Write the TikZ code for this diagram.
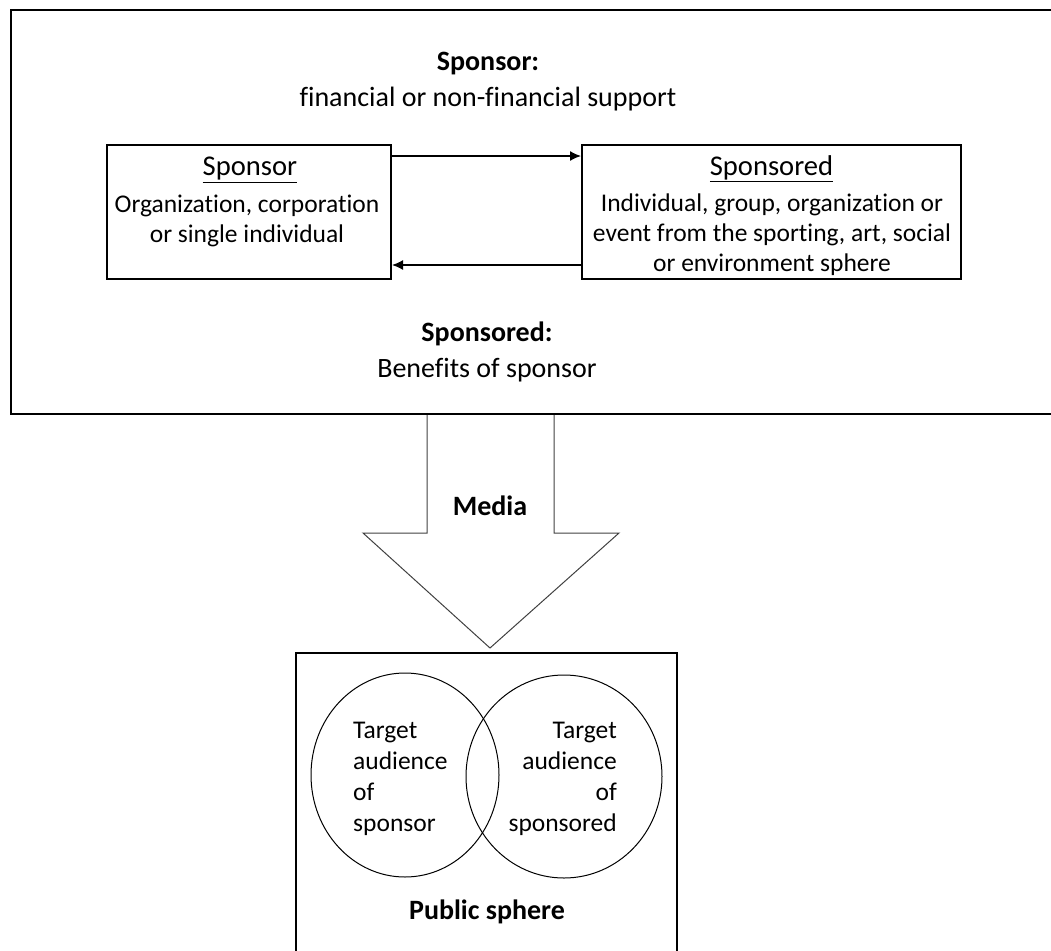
\documentclass[tikz,border=0pt]{standalone}
\usepackage{fontspec}
\setmainfont{Carlito}[Ligatures=NoCommon]
\usetikzlibrary{arrows.meta,shapes.geometric}
\begin{document}
\begin{tikzpicture}[x=1pt,y=-1pt,
  font=\fontsize{28}{30}\selectfont,
  box/.style={draw,line width=2pt,rectangle,inner sep=0pt},
  txt/.style={inner sep=0pt,align=center},
  head/.style={inner sep=0pt,align=center,font=\fontsize{28.6}{30}\selectfont},
  body/.style={inner sep=0pt,align=center,font=\fontsize{25.5}{30}\selectfont},
  link/.style={line width=1.4pt,-{Latex[length=11pt,width=10pt]}},
  ring/.style={draw,line width=1pt,ellipse,inner sep=0pt}]
\useasboundingbox (0,0) rectangle (1051,950);
\clip (0,0) rectangle (1051,950);
% outer frame
\draw[line width=2.5pt] (11,10) rectangle (1075,414);
\node[txt] (t1) at (488,64) {\textbf{Sponsor:}};
\node[txt] (t2) at (488,99) {financial or non-financial support};
\node[txt] (t3) at (487,334) {\textbf{Sponsored:}};
\node[txt] (t4) at (487,370) {Benefits of sponsor};
% boxes
\node[box,minimum width=284pt,minimum height=134pt] (sp) at (249,212) {};
\node[box,minimum width=379pt,minimum height=134pt] (sd) at (771.5,212) {};
\node[head] (spt) at (250,170) {\underline{Sponsor}};
\node[body] (spb) at (247,221) {Organization, corporation\\or single individual};
\node[head] (sdt) at (771.5,169) {\underline{Sponsored}};
\node[body] (sdb) at (772,235) {Individual, group, organization or\\event from the sporting, art, social\\or environment sphere};
\draw[link] ([yshift=56pt]sp.east) -- ([yshift=56pt]sd.west);
\draw[link] ([yshift=-53pt]sd.west) -- ([yshift=-53pt]sp.east);
% media arrow
\draw[line width=1pt,draw=black!75,line join=miter] (427,415) -- (427,533) -- (363,533) -- (490,648) -- (619,533) -- (554,533) -- (554,415);
\node[txt] (media) at (490,506) {\textbf{Media}};
% public sphere
\draw[line width=2pt] (296,653) rectangle (677,970);
\node[ring,minimum width=188pt,minimum height=204pt] (ca) at (405,775) {};
\node[ring,minimum width=196pt,minimum height=203pt] (cb) at (564,776.5) {};
\node[inner sep=0pt,align=left,anchor=west,font=\fontsize{25.5}{31}\selectfont] (cat) at (353,779) {Target\\audience\\of\\sponsor};
\node[inner sep=0pt,align=right,anchor=east,font=\fontsize{25.5}{31}\selectfont] (cbt) at (617,779) {Target\\audience\\of\\sponsored};
\node[txt] (pub) at (487,912) {\textbf{Public sphere}};
\end{tikzpicture}
\end{document}
